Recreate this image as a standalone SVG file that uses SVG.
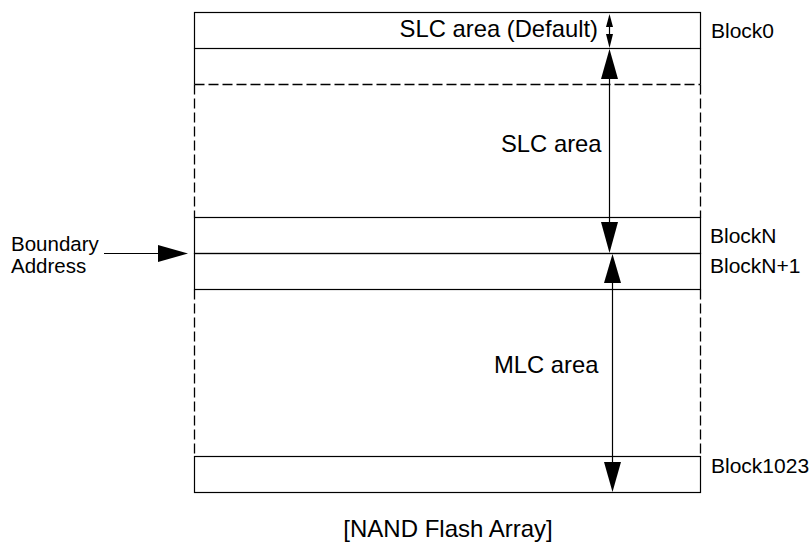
<svg xmlns="http://www.w3.org/2000/svg" width="811" height="546" viewBox="0 0 811 546">
<style>
text{font-family:"Liberation Sans",Arial,sans-serif;fill:#000}
.s{stroke:#000;stroke-width:1.2;fill:none}
.d{stroke:#000;stroke-width:1.3;fill:none;stroke-dasharray:10 4}
.h{fill:#000;stroke:none}
.big{font-size:23.8px}
.blk{font-size:21px}
</style>
<rect width="811" height="546" fill="#fff"/>
<g id="array">
<g id="block0">
<rect class="s" x="194.5" y="12.5" width="506" height="36"/>
<text class="blk" x="711" y="38">Block0</text>
</g>
<g id="block1">
<path class="s" d="M194.5 48.5V84.5M700.5 48.5V84.5"/>
</g>
<g id="slc-region">
<path class="d" d="M194.5 84.5H700.5M194.5 84.5V217.5M700.5 84.5V217.5"/>
</g>
<g id="blockN">
<rect class="s" x="194.5" y="217.5" width="506" height="36"/>
<text class="blk" x="710" y="243">BlockN</text>
</g>
<g id="blockN1">
<rect class="s" x="194.5" y="253.5" width="506" height="36"/>
<text class="blk" x="710" y="273">BlockN+1</text>
</g>
<g id="mlc-region">
<path class="d" d="M194.5 289.5V456.5M700.5 289.5V456.5"/>
</g>
<g id="block1023">
<rect class="s" x="194.5" y="456.5" width="506" height="36"/>
<text class="blk" x="711" y="473">Block1023</text>
</g>
</g>
<g id="labels">
<text class="big" x="598" y="37" text-anchor="end">SLC area (Default)</text>
<text class="big" x="501" y="152">SLC area</text>
<text class="big" x="494" y="373">MLC area</text>
<text style="font-size:20.5px" x="11" y="251">Boundary</text>
<text style="font-size:20.5px" x="11" y="273">Address</text>
<text style="font-size:24px" x="448" y="537" text-anchor="middle">[NAND Flash Array]</text>
</g>
<g id="connectors">
<path class="s" d="M609.5 20V42"/>
<path class="h" d="M609.5 14L606 27H613Z"/>
<path class="h" d="M609.5 48L606 34H613Z"/>
<path class="s" d="M609.5 75V226"/>
<path class="h" d="M609.5 49L601 79H618Z"/>
<path class="h" d="M609.5 253L601 222H618Z"/>
<path class="s" d="M612.5 280V465"/>
<path class="h" d="M612.5 254L604 283H621Z"/>
<path class="h" d="M612.5 492L604 462H621Z"/>
<path class="s" d="M104 253.5H165"/>
<path class="h" d="M188 253.5L158 245V262Z"/>
</g>
</svg>
